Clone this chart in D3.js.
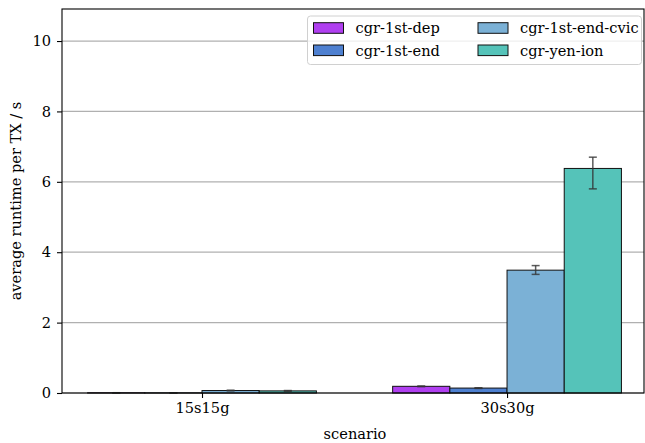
<!doctype html>
<html lang="en">
  <head>
    <meta charset="UTF-8" />
    <title>average runtime per TX</title>
    <style>
      body { margin: 0; background: #fff; }
      svg text { font-family: "DejaVu Serif", serif; font-size: 14.6px; fill: #000; }
      .grid line { stroke: #b0b0b0; stroke-width: 1.2px; }
    </style>
  </head>
  <body>
    <div id="chart"></div>
    <script src="https://d3js.org/d3.v7.min.js"></script>
    <script>
      // data
      const scenarios = ['15s15g', '30s30g'];
      const seriesNames = ['cgr-1st-dep', 'cgr-1st-end', 'cgr-1st-end-cvic', 'cgr-yen-ion'];
      const seriesColors = ['#b03ff0', '#4e80d0', '#7bb1d6', '#55c3b9'];
      const means = [
        [0.006, 0.004, 0.07, 0.06], // 15s15g
        [0.19, 0.14, 3.49, 6.38], // 30s30g
      ];
      // error bar ends (low / high)
      const errLow = [
        [0.004, 0.003, 0.06, 0.05],
        [0.18, 0.13, 3.37, 5.8],
      ];
      const errHigh = [
        [0.008, 0.005, 0.08, 0.07],
        [0.2, 0.15, 3.62, 6.7],
      ];
      const yTicks = [0, 2, 4, 6, 8, 10];

      const width = 645;
      const height = 443;
      const margin = { top: 9, right: 1, bottom: 50, left: 62 };
      const barW = 0.75 / seriesNames.length;

      const svg = d3.select('#chart').append('svg').attr('width', width).attr('height', height);

      const x = d3.scaleLinear().domain([-0.459, 1.449]).range([margin.left, width - margin.right]);
      const y = d3.scaleLinear().domain([0, 10.91]).range([height - margin.bottom, margin.top]);

      // horizontal grid
      svg
        .append('g')
        .attr('class', 'grid')
        .selectAll('line')
        .data(yTicks)
        .enter()
        .append('line')
        .attr('x1', margin.left)
        .attr('x2', width - margin.right)
        .attr('y1', (d) => y(d))
        .attr('y2', (d) => y(d));

      // bars
      const rows = [];
      scenarios.forEach((s, i) => {
        seriesNames.forEach((n, j) => {
          rows.push({ i, j, v: means[i][j], lo: errLow[i][j], hi: errHigh[i][j] });
        });
      });
      const xPos = (d) => d.i + (d.j - 2) * barW;

      svg
        .selectAll('.bar')
        .data(rows)
        .enter()
        .append('rect')
        .attr('class', 'bar')
        .attr('x', (d) => x(xPos(d)))
        .attr('y', (d) => y(d.v))
        .attr('width', (d) => x(xPos(d) + barW) - x(xPos(d)))
        .attr('height', (d) => y(0) - y(d.v))
        .attr('fill', (d) => seriesColors[d.j])
        .attr('stroke', '#111')
        .attr('stroke-width', 1);

      // error bars
      const err = svg
        .selectAll('.err')
        .data(rows)
        .enter()
        .append('g')
        .attr('class', 'err')
        .attr('stroke', '#333')
        .attr('stroke-opacity', 0.8)
        .attr('stroke-width', 1.5);
      const cx = (d) => x(xPos(d) + barW / 2);
      err
        .append('line')
        .attr('x1', cx)
        .attr('x2', cx)
        .attr('y1', (d) => y(d.lo))
        .attr('y2', (d) => y(d.hi));
      ['lo', 'hi'].forEach((k) => {
        err
          .append('line')
          .attr('x1', (d) => cx(d) - 4)
          .attr('x2', (d) => cx(d) + 4)
          .attr('y1', (d) => y(d[k]))
          .attr('y2', (d) => y(d[k]));
      });

      // axes
      const yAxis = svg
        .append('g')
        .attr('transform', `translate(${margin.left},0)`)
        .call(d3.axisLeft(y).tickValues(yTicks).tickSize(5).tickPadding(6));
      const xAxis = svg
        .append('g')
        .attr('transform', `translate(0,${height - margin.bottom})`)
        .call(
          d3
            .axisBottom(x)
            .tickValues([0, 1])
            .tickFormat((d) => scenarios[d])
            .tickSize(5)
            .tickPadding(5),
        );
      [xAxis, yAxis].forEach((a) => {
        a.select('.domain').remove();
        a.selectAll('line').attr('stroke', '#000').attr('stroke-width', 1.1);
        a.selectAll('text').style('font-size', '14.6px').style('font-family', '"DejaVu Serif", serif');
      });

      // frame
      svg
        .append('rect')
        .attr('x', margin.left)
        .attr('y', margin.top)
        .attr('width', width - margin.right - margin.left)
        .attr('height', height - margin.bottom - margin.top)
        .attr('fill', 'none')
        .attr('stroke', '#000')
        .attr('stroke-width', 1.1);

      // labels
      svg
        .append('text')
        .attr('x', 355)
        .attr('y', 439)
        .attr('text-anchor', 'middle')
        .text('scenario');
      svg
        .append('text')
        .attr('transform', 'translate(21,201) rotate(-90)')
        .attr('text-anchor', 'middle')
        .text('average runtime per TX / s');

      // legend
      const legend = svg.append('g').attr('transform', 'translate(307.5,16)');
      legend
        .append('rect')
        .attr('width', 334)
        .attr('height', 48.5)
        .attr('rx', 3)
        .attr('fill', 'rgba(255,255,255,0.8)')
        .attr('stroke', '#d0d0d0');
      seriesNames.forEach((n, j) => {
        const col = Math.floor(j / 2);
        const row = j % 2;
        const g = legend.append('g').attr('transform', `translate(${6 + col * 164.5},${6.7 + row * 22.3})`);
        g.append('rect').attr('width', 30).attr('height', 10.6).attr('fill', seriesColors[j]).attr('stroke', '#111');
        g.append('text').attr('x', 42).attr('y', 10.5).text(n);
      });
    </script>
  </body>
</html>
